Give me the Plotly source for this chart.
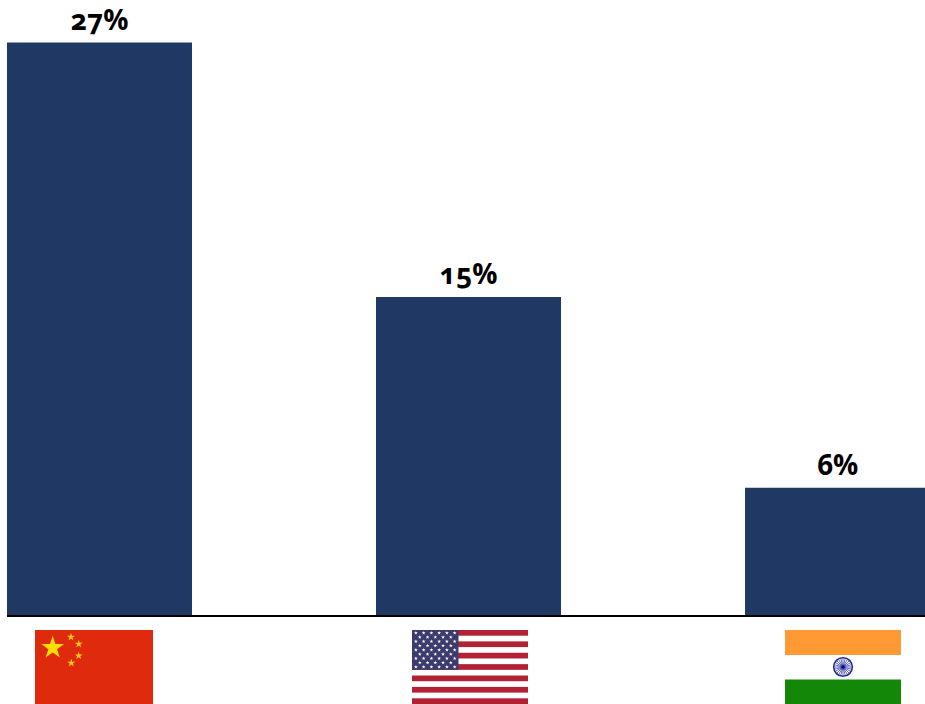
import base64
import math
import plotly.graph_objects as go

# Share of the total by country
countries = ["China", "United States", "India"]
shares = [27, 15, 6]
share_labels = ["27%", "15%", "6%"]

BAR_COLOR = "#1F3864"
SOFTEN = ('<defs><filter id="s" x="-10%" y="-10%" width="120%" height="120%">'
          '<feGaussianBlur stdDeviation="0.45"/></filter></defs>')


def star_points(cx, cy, r):
    pts = []
    for i in range(10):
        a = -math.pi / 2 + i * math.pi / 5
        rad = r if i % 2 == 0 else r * 0.382
        pts.append(f"{cx + rad * math.cos(a):.2f},{cy + rad * math.sin(a):.2f}")
    return " ".join(pts)


def china_flag():
    parts = ['<svg xmlns="http://www.w3.org/2000/svg" width="118" height="74" viewBox="0 0 118 74">',
             SOFTEN,
             '<rect width="118" height="74" fill="#E02A0E"/><g filter="url(#s)">',
             f'<polygon points="{star_points(17.7, 17.8, 12)}" fill="#FFDE00"/>']
    for cx, cy in [(36, 7), (43.7, 14), (43.7, 25.7), (36.3, 33)]:
        parts.append(f'<polygon points="{star_points(cx, cy, 4.2)}" fill="#F7CF10"/>')
    parts.append("</g></svg>")
    return "".join(parts)


def usa_flag():
    parts = ['<svg xmlns="http://www.w3.org/2000/svg" width="116" height="74" viewBox="0 0 116 74">',
             SOFTEN,
             '<rect width="116" height="74" fill="#FFFFFF"/>']
    stripe = 74 / 13
    for i in range(0, 13, 2):
        parts.append(f'<rect y="{i * stripe:.2f}" width="116" height="{stripe:.2f}" fill="#B22234"/>')
    parts.append('<rect width="46.5" height="39.8" fill="#3C3B6E"/><g filter="url(#s)">')
    for row in range(9):
        count = 6 if row % 2 == 0 else 5
        for col in range(count):
            x = 3.9 + col * 7.75 + (0 if row % 2 == 0 else 3.9)
            y = 2.9 + row * 4.25
            parts.append(f'<polygon points="{star_points(x, y, 2.0)}" fill="#FFFFFF"/>')
    parts.append("</g></svg>")
    return "".join(parts)


def india_flag():
    parts = ['<svg xmlns="http://www.w3.org/2000/svg" width="116" height="74" viewBox="0 0 116 74">',
             SOFTEN,
             '<rect width="116" height="74" fill="#FFFFFF"/>',
             '<rect width="116" height="25" fill="#FF9933"/>',
             '<rect y="49.5" width="116" height="24.5" fill="#138808"/>',
             '<circle cx="58" cy="37" r="9.3" fill="#FFFFFF" stroke="#1E2A8C" stroke-width="1.6"/>',
             '<g filter="url(#s)">']
    for i in range(24):
        a = i * math.pi / 12
        parts.append(f'<line x1="58" y1="37" x2="{58 + 8.5 * math.cos(a):.2f}" y2="{37 + 8.5 * math.sin(a):.2f}" '
                     'stroke="#3F47A8" stroke-width="0.8"/>')
    parts.append('</g><circle cx="58" cy="37" r="1.8" fill="#000080"/></svg>')
    return "".join(parts)


def as_uri(svg):
    return "data:image/svg+xml;base64," + base64.b64encode(svg.encode()).decode()


W, H = 925, 704
LEFT, BOTTOM = 7, 89
plot_w, plot_h = W - LEFT, H - BOTTOM
PITCH = 369
CENTER0 = 99.5


def flag_image(svg, x0, x1):
    return dict(source=as_uri(svg), xref="paper", yref="paper",
                x=(x0 - LEFT) / plot_w, sizex=(x1 - x0) / plot_w,
                y=(H - BOTTOM - 630) / plot_h, sizey=74 / plot_h,
                xanchor="left", yanchor="top", sizing="stretch", layer="above")


fig = go.Figure(go.Bar(
    x=countries, y=shares, width=185 / PITCH,
    marker=dict(color=BAR_COLOR, line=dict(width=0)),
    hoverinfo="skip",
))

for country, share, label in zip(countries, shares, share_labels):
    fig.add_annotation(x=country, y=share, text=label, showarrow=False,
                       xanchor="center", yanchor="bottom", yshift=3,
                       font=dict(family="Open Sans", size=28, color="#000000", weight=700))

fig.update_layout(
    width=W, height=H, autosize=False, showlegend=False,
    margin=dict(l=LEFT, r=0, t=0, b=BOTTOM, pad=0),
    paper_bgcolor="#FFFFFF", plot_bgcolor="#FFFFFF",
    images=[flag_image(china_flag(), 35, 153),
            flag_image(usa_flag(), 412, 528),
            flag_image(india_flag(), 785, 901)],
)
fig.update_xaxes(type="category", categoryorder="array", categoryarray=countries,
                 range=[(LEFT - CENTER0) / PITCH, (W - CENTER0) / PITCH],
                 showticklabels=False, ticks="", showgrid=False, zeroline=False,
                 showline=True, linecolor="#000000", linewidth=2)
fig.update_yaxes(range=[0, plot_h / 21.2], visible=False, showgrid=False, zeroline=False)

# Old-style figures for the value labels
old_style = ("document.querySelectorAll('.annotation-text').forEach(function(t){"
             "t.style.fontFeatureSettings='\"onum\"';});")

fig.write_html("out.html", post_script=old_style, config={"displayModeBar": False})
